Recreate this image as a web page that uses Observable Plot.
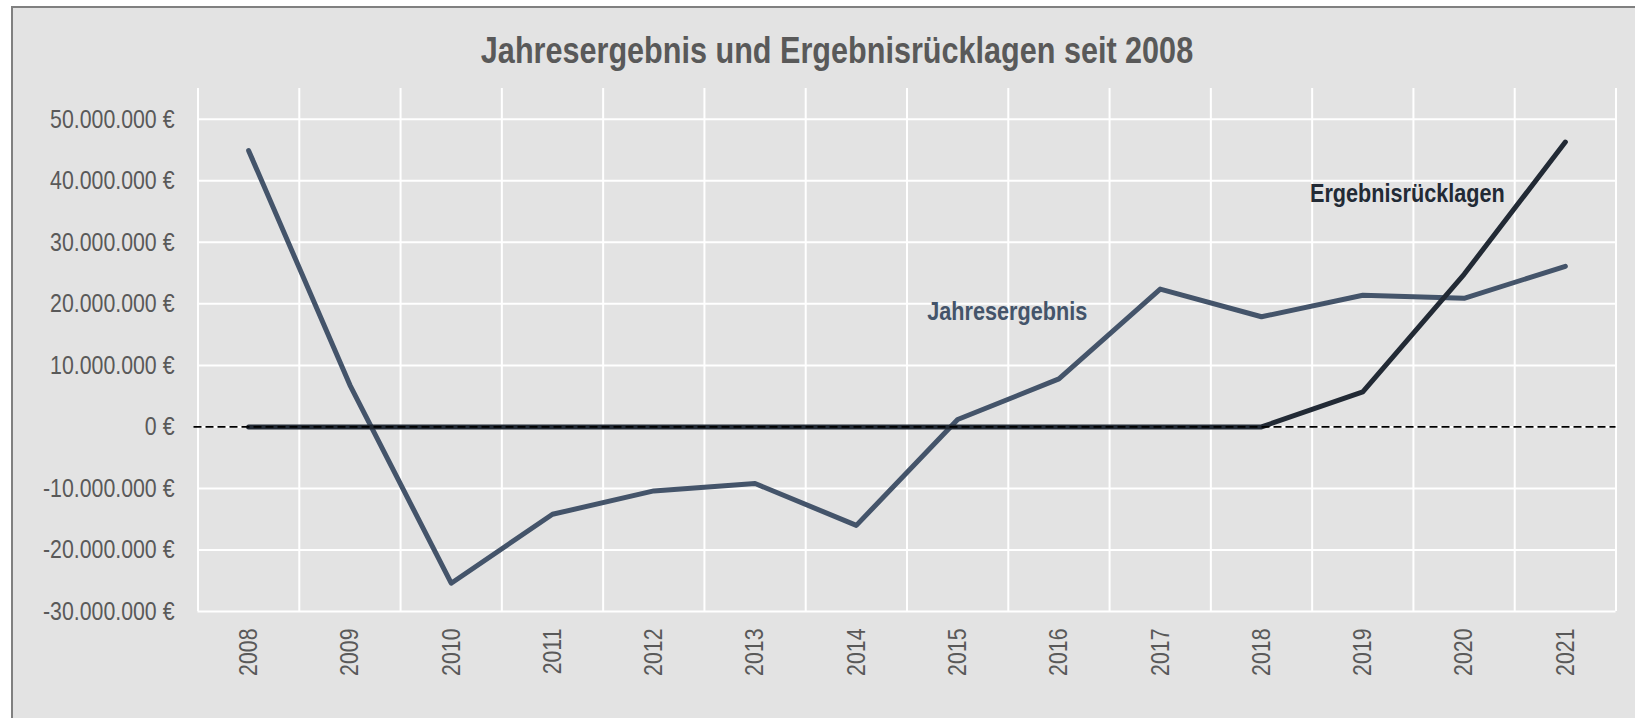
<!DOCTYPE html>
<html>
<head>
<meta charset="utf-8">
<script src="https://cdn.jsdelivr.net/npm/d3@7"></script>
<script src="https://cdn.jsdelivr.net/npm/@observablehq/plot@0.6"></script>
<style>
  html, body { margin: 0; padding: 0; background: #ffffff; overflow: hidden; }
  body { width: 1635px; height: 718px; position: relative; font-family: "Liberation Sans", Arial, sans-serif; }
  #frame { position: absolute; left: 11px; top: 6px; width: 1700px; height: 800px; background: #e3e3e3; border-left: 2px solid #808080; border-top: 2px solid #808080; }
  #chart { position: absolute; left: 0; top: 0; width: 1635px; }
  #title { position: relative; height: 80px; }
  #title span { position: absolute; left: 836.7px; top: 33.1px; transform: translateX(-50%) scaleX(0.838); transform-origin: 50% 50%; white-space: nowrap; font-size: 36.5px; line-height: 36.5px; font-weight: bold; color: #595959; }
  svg { display: block; }
</style>
</head>
<body>
<div id="frame"></div>
<div id="chart">
  <div id="title"><span>Jahresergebnis und Ergebnisrücklagen seit 2008</span></div>
</div>
<script>
// ---- data ----
const years = [2008, 2009, 2010, 2011, 2012, 2013, 2014, 2015, 2016, 2017, 2018, 2019, 2020, 2021];
const jahresergebnis = [44900000, 6800000, -25400000, -14200000, -10400000, -9200000, -16000000, 1200000, 7800000, 22400000, 17900000, 21400000, 20900000, 26100000];
const ergebnisruecklagen = [0, 0, 0, 0, 0, 0, 0, 0, 0, 0, 0, 5700000, 24800000, 46300000];
const yTicks = [-30000000, -20000000, -10000000, 0, 10000000, 20000000, 30000000, 40000000, 50000000];
const seriesNames = ["Jahresergebnis", "Ergebnisrücklagen"];
const labelYears = [2015.49, 2019.44];
const labelValues = [18700000, 37900000];

// ---- build tables ----
const rowsJ = years.map((y, i) => ({year: y, value: jahresergebnis[i]}));
const rowsR = years.map((y, i) => ({year: y, value: ergebnisruecklagen[i]}));
const bandEdges = years.map(y => y - 0.5).concat([years[years.length - 1] + 0.5]);
const xMin = bandEdges[0], xMax = bandEdges[bandEdges.length - 1];
const labels = seriesNames.map((n, i) => ({name: n, year: labelYears[i], value: labelValues[i]}));

const de = d3.formatLocale({decimal: ",", thousands: ".", grouping: [3], currency: ["", " €"], minus: "-"});
const fmt = de.format("$,.0f");

const colJ = "#44546a";
const colR = "#222a35";
const font = '"Liberation Sans", Arial, sans-serif';

const chart = Plot.plot({
  width: 1635,
  height: 638,
  marginLeft: 197.5,
  marginRight: 19.5,
  marginTop: 8,
  marginBottom: 107,
  style: {background: "transparent", fontFamily: font, fontSize: "26px", color: "#595959", overflow: "visible"},
  x: {type: "linear", domain: [xMin, xMax]},
  y: {type: "linear", domain: [-30000000, 55000000]},
  marks: [
    Plot.ruleX(bandEdges, {x: d => d, y1: -30000000, y2: 55000000, stroke: "#ffffff", strokeWidth: 2, strokeOpacity: 1}),
    Plot.ruleY(yTicks, {y: d => d, x1: xMin, x2: xMax, stroke: "#ffffff", strokeWidth: 2, strokeOpacity: 1}),
    Plot.axisY({ticks: yTicks, tickFormat: fmt, tickSize: 0, tickPadding: 23.5, label: null, fontSize: 26, fill: "#595959"}),
    Plot.axisX({ticks: years, tickFormat: d => String(d), tickRotate: -90, tickSize: 0, tickPadding: 17, label: null, fontSize: 26, fill: "#595959"}),
    Plot.line(rowsJ, {x: "year", y: "value", stroke: colJ, strokeWidth: 5, strokeLinecap: "round", strokeLinejoin: "round"}),
    Plot.line(rowsR, {x: "year", y: "value", stroke: colR, strokeWidth: 5, strokeLinecap: "round", strokeLinejoin: "round"}),
    Plot.ruleY([0], {x1: xMin, x2: xMax, insetLeft: -4, stroke: "#000000", strokeWidth: 1.6, strokeDasharray: "8,4"}),
    Plot.text(labels, {x: "year", y: "value", text: "name", fill: (d, i) => i === 0 ? colJ : colR, fontSize: 26.4, fontWeight: "bold", textAnchor: "middle"})
  ]
});

// narrow the glyphs horizontally (Arial Narrow look) around each text's anchor
chart.querySelectorAll("text").forEach(t => {
  const tr = t.getAttribute("transform");
  if (tr) {
    t.setAttribute("transform", tr + " scale(0.82,1)");
  } else {
    const x = t.getAttribute("x") || 0, y = t.getAttribute("y") || 0;
    t.removeAttribute("x"); t.removeAttribute("y");
    t.setAttribute("transform", `translate(${x},${y}) scale(0.82,1)`);
  }
});
document.getElementById("chart").appendChild(chart);
</script>
</body>
</html>
